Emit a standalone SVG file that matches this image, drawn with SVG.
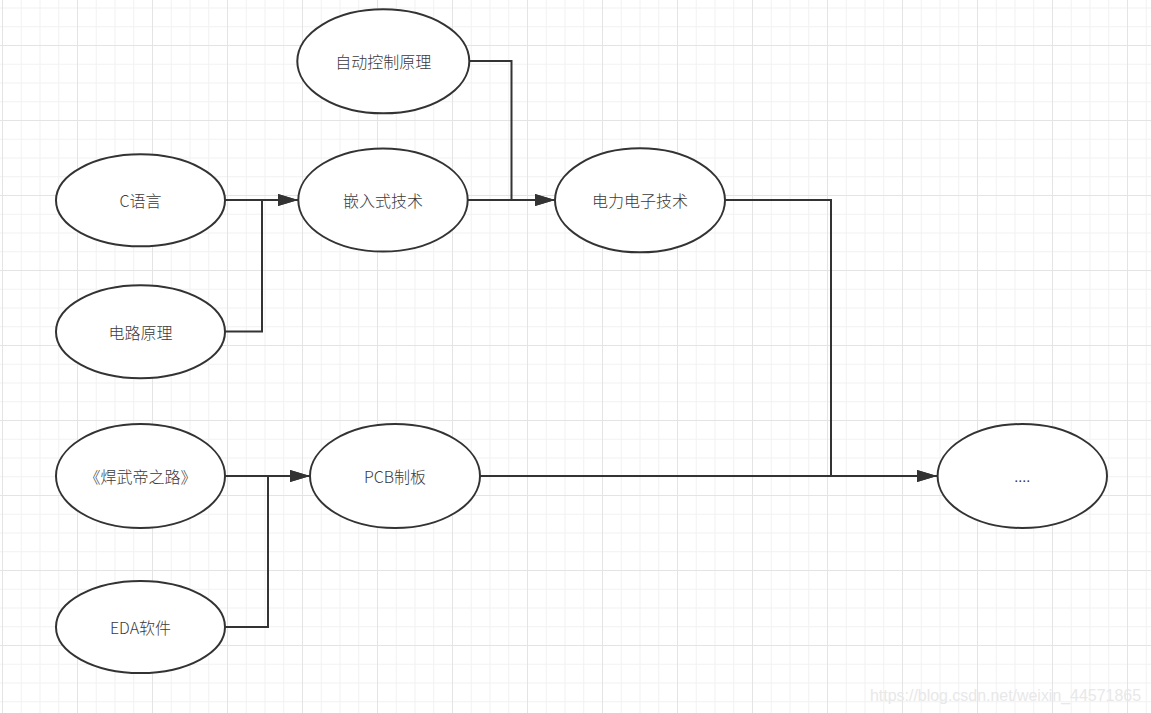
<svg xmlns="http://www.w3.org/2000/svg" width="1151" height="713" viewBox="0 0 1151 713">
<style>
.node ellipse{fill:#ffffff;stroke:#333333;stroke-width:2}
.node text{font-family:"Noto Sans CJK SC","Microsoft YaHei",sans-serif;font-size:16px;font-weight:300;fill:#3a3a3a;text-anchor:middle}
.conn path{fill:none;stroke:#333333;stroke-width:2}
.wm{font-family:"Liberation Sans",Arial,sans-serif;font-size:16px;fill:#e8e8e8}
</style>
<defs>
<pattern id="minor" patternUnits="userSpaceOnUse" x="2" y="45" width="18.75" height="18.75">
<path d="M0.5,0 V18.75 M0,0.5 H18.75" stroke="#f1f1f1" stroke-width="1" fill="none"/>
</pattern>
<pattern id="major" patternUnits="userSpaceOnUse" x="2" y="45" width="75" height="75">
<path d="M0.5,0 V75 M0,0.5 H75" stroke="#e4e4e4" stroke-width="1" fill="none"/>
</pattern>
<marker id="arr" markerUnits="userSpaceOnUse" markerWidth="20" markerHeight="14" refX="20" refY="7" orient="auto">
<path d="M0,1 L20,7 L0,13 Z" fill="#333333"/>
</marker>
</defs>
<rect width="1151" height="713" fill="#ffffff"/>
<rect width="1151" height="713" fill="url(#minor)"/>
<rect width="1151" height="713" fill="url(#major)"/>

<g id="connectors" class="conn">
<path d="M225,200 H298" marker-end="url(#arr)"/>
<path d="M225,331.5 H262 V200 H298" marker-end="url(#arr)"/>
<path d="M469,61 H511.5 V200 H555" marker-end="url(#arr)"/>
<path d="M468,200 H555" marker-end="url(#arr)"/>
<path d="M725,200 H831 V476 H937" marker-end="url(#arr)"/>
<path d="M225,476 H310" marker-end="url(#arr)"/>
<path d="M225,627 H268 V476 H310" marker-end="url(#arr)"/>
<path d="M480,476 H937" marker-end="url(#arr)"/>
</g>

<g id="n-auto" class="node"><ellipse cx="383.3" cy="61.3" rx="86" ry="52"/><text x="383.3" y="68.3">自动控制原理</text></g>
<g id="n-c" class="node"><ellipse cx="140.5" cy="200.3" rx="84.5" ry="46"/><text x="140.5" y="207.3">C语言</text></g>
<g id="n-circuit" class="node"><ellipse cx="140.5" cy="331.7" rx="84.5" ry="46.5"/><text x="140.5" y="338.7">电路原理</text></g>
<g id="n-solder" class="node"><ellipse cx="140.5" cy="476" rx="84.5" ry="52"/><text x="140.5" y="483">《焊武帝之路》</text></g>
<g id="n-eda" class="node"><ellipse cx="140.5" cy="627" rx="84.5" ry="46"/><text x="140.5" y="634">EDA软件</text></g>
<g id="n-embedded" class="node"><ellipse cx="383" cy="200" rx="84.7" ry="51.6"/><text x="383" y="207">嵌入式技术</text></g>
<g id="n-power" class="node"><ellipse cx="640" cy="200.3" rx="85" ry="52"/><text x="640" y="207.3">电力电子技术</text></g>
<g id="n-pcb" class="node"><ellipse cx="395" cy="476" rx="85" ry="52"/><text x="395" y="483">PCB制板</text></g>
<g id="n-more" class="node"><ellipse cx="1022.3" cy="476" rx="84.7" ry="52"/><text x="1022.3" y="482">....</text></g>

<text class="wm" x="870" y="701" textLength="271" lengthAdjust="spacingAndGlyphs">https://blog.csdn.net/weixin_44571865</text>
</svg>
